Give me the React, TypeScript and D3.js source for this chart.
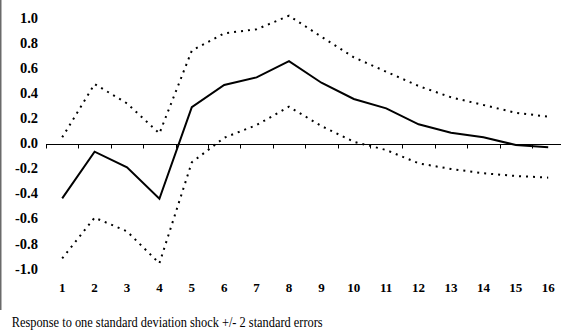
import React from "react";
import * as d3 from "d3";

const periods = [1, 2, 3, 4, 5, 6, 7, 8, 9, 10, 11, 12, 13, 14, 15, 16];
const response = [-0.437, -0.065, -0.19, -0.44, 0.29, 0.466, 0.527, 0.657, 0.484, 0.355, 0.28, 0.153, 0.086, 0.05, -0.012, -0.03];
const upperBand = [0.049, 0.474, 0.32, 0.08, 0.74, 0.878, 0.91, 1.018, 0.851, 0.687, 0.572, 0.458, 0.368, 0.307, 0.245, 0.214];
const lowerBand = [-0.915, -0.591, -0.7, -0.955, -0.15, 0.046, 0.147, 0.293, 0.139, 0.014, -0.052, -0.158, -0.203, -0.237, -0.259, -0.272];
const yTicks = [1.0, 0.8, 0.6, 0.4, 0.2, 0.0, -0.2, -0.4, -0.6, -0.8, -1.0];
const footnote = "Response to one standard deviation shock +/- 2 standard errors";

const W = 561;
const H = 332;
const SERIF = "Liberation Serif, DejaVu Serif, serif";

export default function App() {
  const x = d3
    .scaleBand<number>()
    .domain(periods)
    .range([46, 46 + 16 * 32.4])
    .padding(0);
  const y = d3.scaleLinear().domain([-1, 1]).range([269, 18]);
  const cx = (p: number) => (x(p) as number) + x.bandwidth() / 2;

  const line = d3
    .line<number>()
    .x((_, i) => cx(periods[i]))
    .y((v) => y(v));

  const tickXs = periods.map((p) => x(p) as number);
  const y0 = Math.round(y(0)) + 0.5;

  return (
    <svg
      width={W}
      height={H}
      style={{ position: "absolute", left: 0, top: 0, background: "#fff", fontFamily: SERIF }}
    >
      <rect x={0} y={0} width={W} height={H} fill="#fff" />
      <line x1={0.75} x2={0.75} y1={0} y2={310} stroke="#6a6a6a" strokeWidth={1.5} />

      {/* zero axis */}
      <line x1={46} x2={W} y1={y0} y2={y0} stroke="#000" strokeWidth={1} />
      {tickXs.map((tx, i) => (
        <line key={i} x1={Math.round(tx) + 0.5} x2={Math.round(tx) + 0.5} y1={y0} y2={y0 + 4} stroke="#000" strokeWidth={1} />
      ))}

      {/* y labels */}
      {yTicks.map((t) => (
        <text
          key={t}
          x={38}
          y={y(t) + 4.6}
          textAnchor="end"
          style={{ fontFamily: SERIF, fontWeight: "bold", fontSize: "14.5px" }}
          fill="#000"
        >
          {d3.format(".1f")(t).replace("−", "-")}
        </text>
      ))}

      {/* x labels */}
      {periods.map((p) => (
        <text
          key={p}
          x={cx(p)}
          y={291.5}
          textAnchor="middle"
          style={{ fontFamily: SERIF, fontWeight: "bold", fontSize: "13px" }}
          fill="#000"
        >
          {p}
        </text>
      ))}

      <path d={line(upperBand) || ""} fill="none" stroke="#000" strokeWidth={2} strokeDasharray="2,5" />
      <path d={line(lowerBand) || ""} fill="none" stroke="#000" strokeWidth={2} strokeDasharray="2,5" />
      <path d={line(response) || ""} fill="none" stroke="#000" strokeWidth={2} strokeLinejoin="miter" />

      <text
        x={11.7}
        y={326.7}
        style={{ fontFamily: SERIF, fontSize: "14px" }}
        fill="#000"
        textLength={311}
        lengthAdjust="spacingAndGlyphs"
      >
        {footnote}
      </text>
    </svg>
  );
}
